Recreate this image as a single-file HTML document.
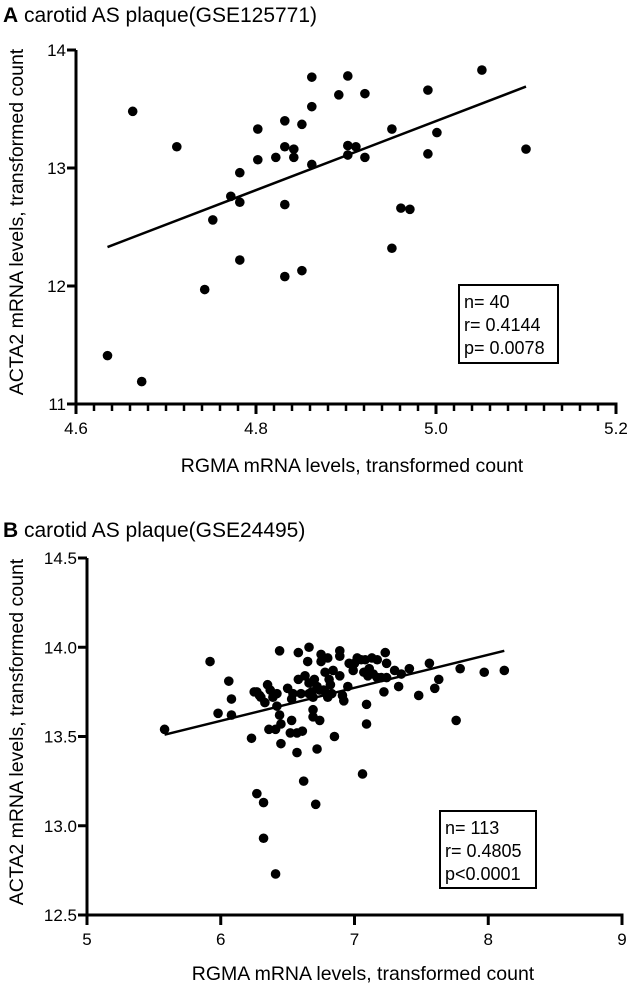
<!DOCTYPE html>
<html><head><meta charset="utf-8">
<style>
html,body{margin:0;padding:0;background:#fff;}
svg{display:block;font-family:"Liberation Sans",Arial,sans-serif;}
</style></head>
<body>
<svg id="fig" width="630" height="987" viewBox="0 0 630 987" xmlns="http://www.w3.org/2000/svg">
<text x="3" y="22" font-size="21"><tspan font-weight="bold">A</tspan> carotid AS plaque(GSE125771)</text>
<text x="3" y="537" font-size="21"><tspan font-weight="bold">B</tspan> carotid AS plaque(GSE24495)</text>
<text transform="translate(23,222) rotate(-90)" text-anchor="middle" font-size="19.5">ACTA2 mRNA levels, transformed count</text>
<text transform="translate(23,732) rotate(-90)" text-anchor="middle" font-size="19.5">ACTA2 mRNA levels, transformed count</text>
<text x="352" y="472" text-anchor="middle" font-size="19.5">RGMA mRNA levels, transformed count</text>
<text x="363" y="980" text-anchor="middle" font-size="19.5">RGMA mRNA levels, transformed count</text>
<g>
<rect x="459" y="285" width="99" height="78" fill="none" stroke="#000" stroke-width="2"/>
<text x="464" y="308" font-size="18">n= 40</text>
<text x="464" y="331" font-size="18">r= 0.4144</text>
<text x="464" y="354" font-size="18">p= 0.0078</text>
</g>
<g>
<rect x="440" y="811" width="96" height="77" fill="none" stroke="#000" stroke-width="2"/>
<text x="445" y="834" font-size="18">n= 113</text>
<text x="445" y="857" font-size="18">r= 0.4805</text>
<text x="445" y="880" font-size="18">p&lt;0.0001</text>
</g>
</svg>
<script>
// Panel A data
const aX = [4.635,4.663,4.673,4.712,4.743,4.752,4.772,4.782,4.782,4.782,4.802,4.802,4.822,4.832,4.832,4.832,4.832,4.842,4.842,4.851,4.851,4.862,4.862,4.862,4.892,4.902,4.902,4.902,4.911,4.921,4.921,4.951,4.951,4.961,4.971,4.991,4.991,5.001,5.051,5.100];
const aY = [11.41,13.48,11.19,13.18,11.97,12.56,12.76,12.96,12.71,12.22,13.33,13.07,13.09,13.40,13.18,12.69,12.08,13.16,13.09,13.37,12.13,13.77,13.52,13.03,13.62,13.78,13.19,13.11,13.18,13.63,13.09,13.33,12.32,12.66,12.65,13.66,13.12,13.30,13.83,13.16];
const aFitX = [4.635,5.10];
const aFitY = [12.33,13.69];
const aXTicks = [4.6,4.8,5.0,5.2];
const aXTickLabels = ["4.6","4.8","5.0","5.2"];
const aYTicks = [11,12,13,14];
const aYTickLabels = ["11","12","13","14"];
// Panel B data
const bX = [5.58,5.92,5.98,6.06,6.08,6.08,6.23,6.25,6.27,6.29,6.30,6.35,6.37,6.39,6.42,6.36,6.41,6.42,6.44,6.45,6.45,6.44,6.53,6.53,6.52,6.57,6.58,6.61,6.57,6.58,6.63,6.65,6.66,6.66,6.68,6.69,6.69,6.69,6.70,6.72,6.74,6.72,6.62,6.71,6.75,6.75,6.77,6.78,6.80,6.80,6.81,6.82,6.83,6.84,6.85,6.89,6.89,6.89,6.91,6.92,6.95,6.96,6.99,7.00,7.02,7.05,7.07,7.08,7.09,7.09,7.10,7.11,7.13,7.14,7.17,7.17,7.20,7.22,7.23,7.24,7.24,7.30,7.33,7.35,7.41,7.48,7.56,7.60,7.63,7.76,7.79,7.97,8.12,7.06,6.27,6.32,6.32,6.41,6.50,6.54,6.60,6.33,6.66,6.74,6.78];
const bY = [13.54,13.92,13.63,13.81,13.71,13.62,13.49,13.75,13.75,13.73,13.72,13.79,13.76,13.72,13.74,13.54,13.54,13.67,13.62,13.57,13.46,13.98,13.71,13.59,13.52,13.52,13.82,13.53,13.41,13.97,13.84,13.92,14.00,13.80,13.75,13.65,13.61,13.72,13.82,13.78,13.59,13.43,13.25,13.12,13.96,13.92,13.76,13.86,13.94,13.72,13.82,13.79,13.74,13.87,13.50,13.95,13.84,13.98,13.73,13.70,13.78,13.91,13.87,13.91,13.94,13.93,13.86,13.93,13.68,13.57,13.84,13.88,13.94,13.85,13.93,13.83,13.83,13.75,13.97,13.91,13.83,13.87,13.78,13.85,13.88,13.73,13.91,13.77,13.82,13.59,13.88,13.86,13.87,13.29,13.18,13.13,12.93,12.73,13.77,13.74,13.74,13.69,13.74,13.76,13.75];
const bFitX = [5.58,8.12];
const bFitY = [13.51,13.98];
const bXTicks = [5,6,7,8,9];
const bXTickLabels = ["5","6","7","8","9"];
const bYTicks = [12.5,13.0,13.5,14.0,14.5];
const bYTickLabels = ["12.5","13.0","13.5","14.0","14.5"];

const NS = "http://www.w3.org/2000/svg";
const svg = document.getElementById('fig');
function mk(tag, attrs, parent){
  const e = document.createElementNS(NS, tag);
  for (const k in attrs) e.setAttribute(k, attrs[k]);
  (parent||svg).appendChild(e);
  return e;
}
function panel(p){
  const sx = v => p.x0 + (v - p.xmin)/(p.xmax - p.xmin)*(p.x1 - p.x0);
  const sy = v => p.y0 - (v - p.ymin)/(p.ymax - p.ymin)*(p.y0 - p.y1);
  const g = mk('g', {});
  
  
  const yAx = mk('line', {x1:p.x0, y1:p.y0+1.5, x2:p.x0, y2:p.y1, stroke:'#000','stroke-width':3}, g);
  
  
  const xAx = mk('line', {x1:p.x0-1.5, y1:p.y0, x2:p.x1+1.5, y2:p.y0, stroke:'#000','stroke-width':3}, g);
  
  
  if (p.minor) {
    for (let i = 0; i <= p.minorCount; i++) {
      const xx = p.x0 + i*(p.x1-p.x0)/p.minorCount;
      const t = mk('line', {x1:xx, y1:p.y0, x2:xx, y2:p.y0+7, stroke:'#000','stroke-width':2.5}, g);
      
      
    }
  }
  p.xt.forEach((v,i) => {
    const xx = sx(v);
    const t = mk('line', {x1:xx, y1:p.y0, x2:xx, y2:p.y0+10, stroke:'#000','stroke-width':3}, g);
    
    
    const l = mk('text', {x:xx, y:p.y0+30, 'text-anchor':'middle','font-size':17}, g);
    l.textContent = p.xl[i];
    
    
  });
  p.yt.forEach((v,i) => {
    const yy = sy(v);
    const t = mk('line', {x1:p.x0-9, y1:yy, x2:p.x0, y2:yy, stroke:'#000','stroke-width':3}, g);
    
    
    const l = mk('text', {x:p.x0-10, y:yy+6, 'text-anchor':'end','font-size':17}, g);
    l.textContent = p.yl[i];
    
    
  });
  const fit = mk('line', {x1:sx(p.fx[0]), y1:sy(p.fy[0]), x2:sx(p.fx[1]), y2:sy(p.fy[1]), stroke:'#000','stroke-width':2.5}, g);
  
  
  p.dx.forEach((v,i) => {
    const c = mk('circle', {cx:sx(v), cy:sy(p.dy[i]), r:4.8, fill:'#000'}, g);
    
    
  });
}
panel({name:'panel-a', x0:76, x1:616, y0:404, y1:50, xmin:4.6, xmax:5.2, ymin:11, ymax:14,
  xt:aXTicks, xl:aXTickLabels, yt:aYTicks, yl:aYTickLabels, fx:aFitX, fy:aFitY, dx:aX, dy:aY, minor:true, minorCount:30});
panel({name:'panel-b', x0:87, x1:622, y0:915, y1:558, xmin:5, xmax:9, ymin:12.5, ymax:14.5,
  xt:bXTicks, xl:bXTickLabels, yt:bYTicks, yl:bYTickLabels, fx:bFitX, fy:bFitY, dx:bX, dy:bY, minor:false});
</script>
</body></html>
